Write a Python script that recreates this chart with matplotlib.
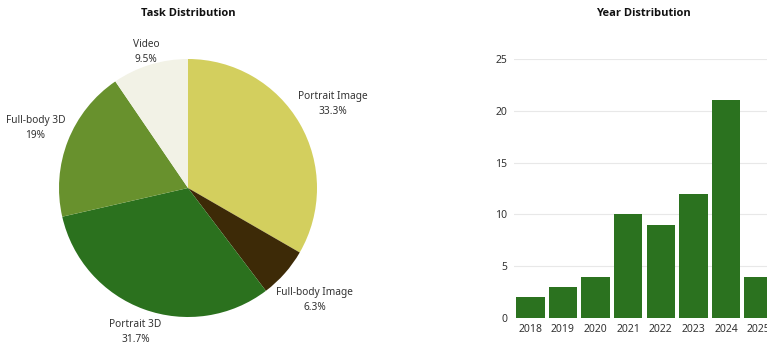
import matplotlib.pyplot as plt
import numpy as np

plt.rcParams['font.family'] = ['Noto Sans', 'DejaVu Sans']

# task distribution (counts, clockwise from top)
tasks = ['Portrait Image', 'Full-body Image', 'Portrait 3D', 'Full-body 3D', 'Video']
task_counts = [21, 4, 20, 12, 6]
task_colors = ['#D3CF5E', '#3D2A07', '#2B711E', '#68912D', '#F2F2E6']
label_dist = [1.30, 1.31, 1.19, 1.27, 1.105]  # label radius (layout only)

# year distribution
years = ['2018', '2019', '2020', '2021', '2022', '2023', '2024', '2025']
year_counts = [2, 3, 4, 10, 9, 12, 21, 4]
bar_color = '#2B721F'

W, H = 767, 347
fig = plt.figure(figsize=(W / 100, H / 100), dpi=100)
title_font = dict(family=['Open Sans', 'Lato', 'DejaVu Sans'], fontweight='bold',
                  fontsize=8, color='#111111')

# ---- pie ----
cx, cy, r = 188, 188, 129
ax1 = fig.add_axes([(cx - r) / W, (H - cy - r) / H, 2 * r / W, 2 * r / H])
wedges, _ = ax1.pie(task_counts, colors=task_colors, startangle=90, counterclock=False,
                    radius=1, wedgeprops=dict(linewidth=0))
ax1.set_xlim(-1, 1)
ax1.set_ylim(-1, 1)
ax1.axis('off')

total = sum(task_counts)
for w, name, c, d in zip(wedges, tasks, task_counts, label_dist):
    ang = np.deg2rad((w.theta1 + w.theta2) / 2)
    pct = c / total * 100
    txt = ('%.1f' % pct).rstrip('0').rstrip('.') + '%'
    ax1.text(d * np.cos(ang), d * np.sin(ang), name + '\n' + txt, ha='center', va='center',
             multialignment='center', fontsize=7.3, color='#333333', clip_on=False,
             linespacing=1.55)

fig.text(188 / W, 1 - 14 / H, 'Task Distribution', ha='center', va='center', **title_font)

# ---- bars ----
ax2 = fig.add_axes([514 / W, 29 / H, 261 / W, 259 / H])
x = np.arange(len(years))
ax2.bar(x, year_counts, width=0.87, color=bar_color, zorder=3)
ax2.set_xlim(-0.5, len(years) - 0.5)
ax2.set_ylim(0, 25)
ax2.set_yticks([0, 5, 10, 15, 20, 25])
ax2.set_xticks(x)
ax2.set_xticklabels(years)
ax2.grid(axis='y', color='#E8E8E8', linewidth=0.8, zorder=0)
for s in ax2.spines.values():
    s.set_visible(False)
ax2.tick_params(length=0, labelsize=7.5, labelcolor='#333333', pad=4)
ax2.tick_params(axis='y', pad=5)

fig.text(643 / W, 1 - 14 / H, 'Year Distribution', ha='center', va='center', **title_font)

fig.savefig('out.png', dpi=100)
